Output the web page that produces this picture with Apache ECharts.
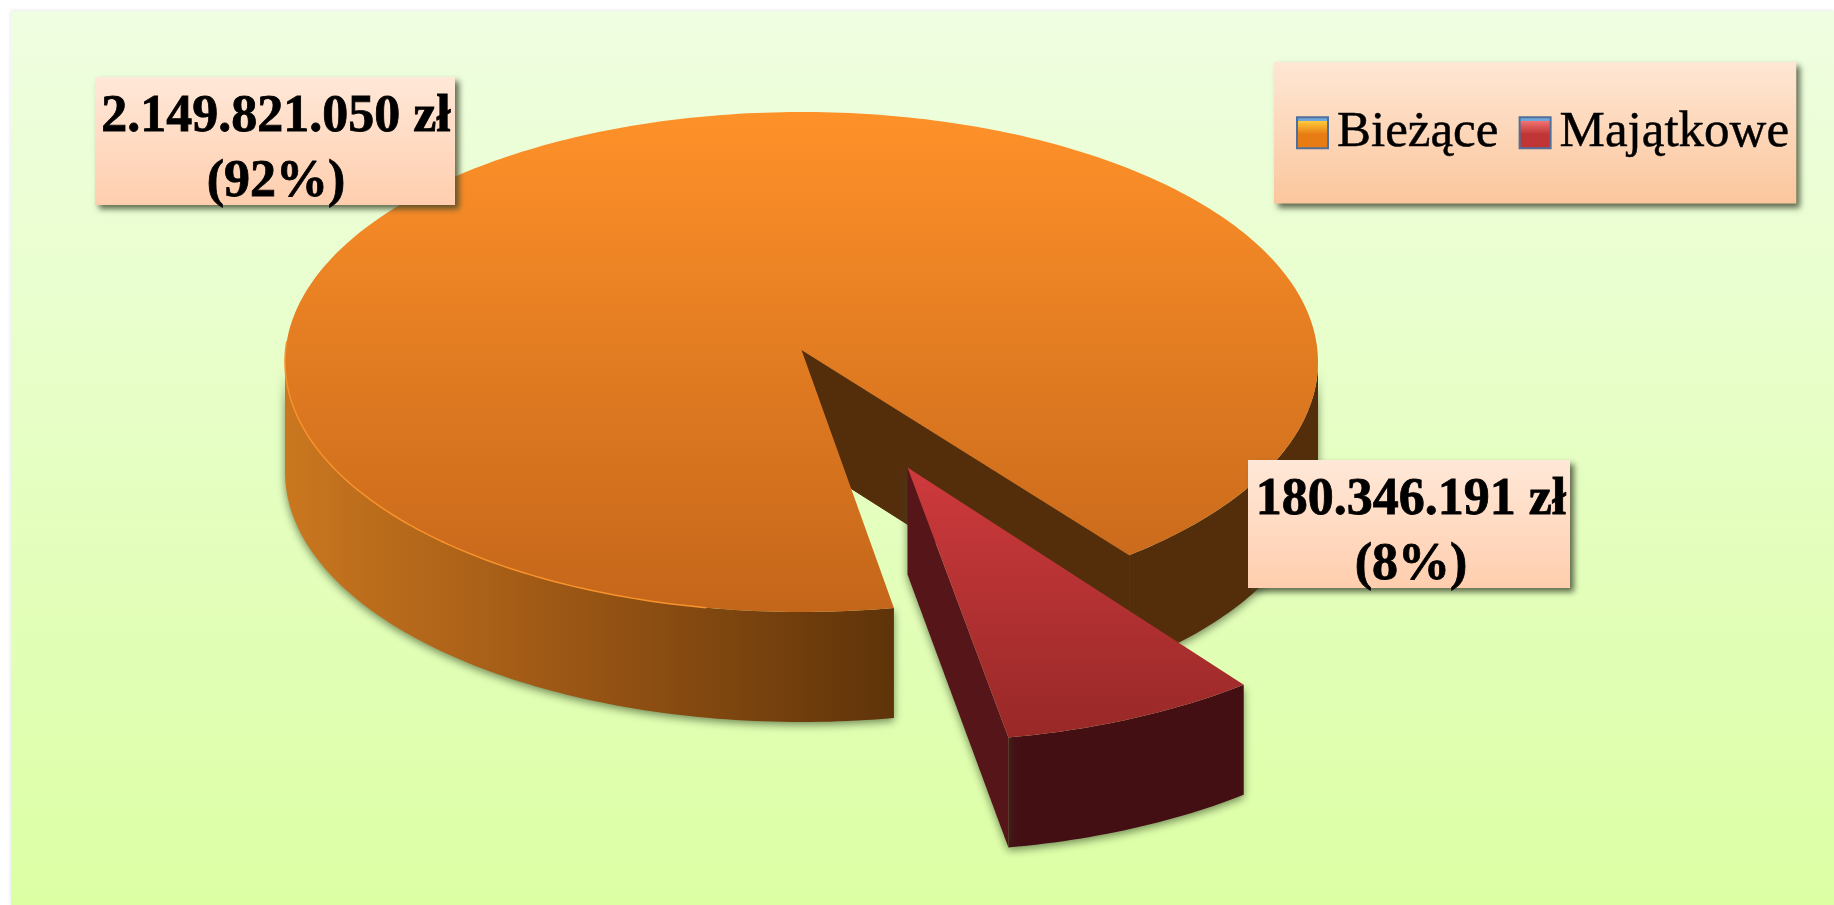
<!DOCTYPE html>
<html><head><meta charset="utf-8">
<style>html,body{margin:0;padding:0;background:#fff}#c{width:1834px;height:905px}</style>
<script src="https://cdn.jsdelivr.net/npm/echarts@6/dist/echarts.min.js"></script>
</head><body><div id="c"></div>
<script>
const categories = ['Bieżące', 'Majątkowe'];
const values = [2149821050, 180346191];

const total = values.reduce((a, b) => a + b, 0);
const fmt = v => String(v).replace(/\B(?=(\d{3})+$)/g, '.') + ' zł';
const SERIF = '"Liberation Serif","Times New Roman",serif';
const G = echarts.graphic.LinearGradient;
const chart = echarts.init(document.getElementById('c'), null, {renderer: 'canvas'});

// tilted-pie projection
const CX = 801.5, CY = 362, RX = 516.5, RY = 250, APEX_Y = 350, DEPTH = 110;
const START = 142.3; // clockwise degrees from 12 o'clock where Majątkowe begins
const EXPLODE_RIM = [114.5, 129.5], EXPLODE_APEX = [106, 117.5];
const e0 = (APEX_Y - CY) / RY;
// ray angles that reach the widest points of the ellipse
const EDGE_R = Math.atan2(1, e0) * 180 / Math.PI, EDGE_L = 360 - EDGE_R;

function rim(deg, off) {
  const t = deg * Math.PI / 180, dx = Math.sin(t), dy = -Math.cos(t);
  const pd = e0 * dy, s = -pd + Math.sqrt(pd * pd - (e0 * e0 - 1));
  const o = off || [0, 0];
  return [CX + RX * s * dx + o[0], CY + RY * (e0 + s * dy) + o[1]];
}
function arc(a, b, off) {
  const pts = [], n = Math.max(2, Math.ceil(Math.abs(b - a)));
  for (let i = 0; i <= n; i++) pts.push(rim(a + (b - a) * i / n, off));
  return pts;
}
const drop = (pts, d) => pts.map(p => [p[0], p[1] + d]).reverse();
const SHADOW = {shadowBlur: 9, shadowColor: 'rgba(55,75,40,0.65)', shadowOffsetY: 3};
function poly(points, style) { return {type: 'polygon', shape: {points}, style}; }
function labelBox(x, y, w, h, tx, ty, text) {
  return [
    {type: 'rect', shape: {x, y, width: w, height: h}, style: {
      fill: new G(0, 0, 0, 1, [{offset: 0, color: '#FFE8D8'}, {offset: 1, color: '#FFCEAE'}]),
      shadowBlur: 6, shadowColor: 'rgba(60,70,45,0.8)', shadowOffsetX: 4, shadowOffsetY: 4}},
    {type: 'text', style: {x: tx, y: ty, text, font: 'bold 52px ' + SERIF, lineHeight: 65,
      align: 'center', verticalAlign: 'middle', fill: '#000', stroke: '#000', lineWidth: 0.8}}
  ];
}
function text2(i) { return fmt(values[i]) + '\n(' + Math.round(values[i] / total * 100) + '%)'; }

function renderMain(params, api) {
  const span = api.value(0) / total * 360;
  const a0 = START + (values[1] / total * 360), a1 = a0 + span;
  const apex = [CX, APEX_Y];
  const cutEnd = rim(a1);
  const children = [
    poly(arc(a0, EDGE_L).concat(drop(arc(a0, EDGE_L), DEPTH)), Object.assign({
      fill: new G(0, 0, 1, 0, [{offset: 0, color: '#CA771F'}, {offset: 0.4, color: '#A25B16'}, {offset: 1, color: '#5F3309'}])}, SHADOW)),
    poly(arc(EDGE_R, a1 - 360).concat(drop(arc(EDGE_R, a1 - 360), DEPTH)), Object.assign({fill: '#542D0B'}, SHADOW)),
    poly([apex, cutEnd, [cutEnd[0], cutEnd[1] + DEPTH], [apex[0], apex[1] + 107]], {fill: '#542D0B', stroke: '#542D0B', lineWidth: 1}),
    poly([apex].concat(arc(a0, a1)), {
      fill: new G(0, 0, 0, 1, [{offset: 0, color: '#FF9129'}, {offset: 1, color: '#C4661A'}])}),
    {type: 'polyline', shape: {points: arc(a0 + 20, 272)}, style: {fill: null, stroke: '#F8922C', lineWidth: 1.5}}
  ].concat(labelBox(95, 77, 360, 128, 276, 150.5, text2(0)));
  return {type: 'group', children};
}
function renderSlice(params, api) {
  const span = api.value(0) / total * 360;
  const a0 = START, a1 = START + span;
  const apex = [CX + EXPLODE_APEX[0], APEX_Y + EXPLODE_APEX[1]];
  const r = arc(a0, a1, EXPLODE_RIM);
  const corner = r[r.length - 1];
  const children = [
    poly(r.concat(drop(r, DEPTH)), Object.assign({fill: '#430F13'}, SHADOW)),
    poly([apex, corner, [corner[0], corner[1] + DEPTH], [apex[0], apex[1] + 107]], Object.assign({fill: '#561519'}, SHADOW)),
    poly([apex].concat(r), {fill: new G(0, 0, 0, 1, [{offset: 0, color: '#CE3A3D'}, {offset: 1, color: '#982827'}])})
  ].concat(labelBox(1248, 460, 322, 128, 1411, 533, text2(1)));
  return {type: 'group', children};
}
const iconGrad = (c1, c2) => new G(0, 0, 0, 1, [
  {offset: 0, color: '#6FA6DC'}, {offset: 0.13, color: '#6FA6DC'},
  {offset: 0.15, color: c1}, {offset: 0.55, color: c2}, {offset: 1, color: c2}]);

chart.setOption({
  animation: false,
  backgroundColor: '#fff',
  graphic: [{type: 'rect', z: -1, shape: {x: 11, y: 11, width: 1823, height: 894}, style: {
    fill: new G(0, 0, 0, 1, [{offset: 0, color: '#EFFEE1'}, {offset: 1, color: '#DCFFA4'}]),
    shadowBlur: 4, shadowColor: 'rgba(170,170,200,0.35)'}}],
  legend: {
    left: 1274, top: 62, orient: 'horizontal', padding: [45, 7, 45, 22], itemGap: 20,
    itemWidth: 31, itemHeight: 31, selectedMode: false,
    backgroundColor: new G(0, 0, 0, 1, [{offset: 0, color: '#FEE7D4'}, {offset: 1, color: '#FBC69D'}]),
    shadowBlur: 6, shadowColor: 'rgba(60,70,45,0.8)', shadowOffsetX: 4, shadowOffsetY: 4,
    textStyle: {fontFamily: SERIF, fontSize: 51, color: '#000', padding: [0, 0, 0, 4], textBorderColor: '#000', textBorderWidth: 0.5},
    data: [
      {name: categories[0], icon: 'rect', itemStyle: {color: iconGrad('#FFC93A', '#E87C14'), borderColor: '#50709C', borderWidth: 2}},
      {name: categories[1], icon: 'rect', itemStyle: {color: iconGrad('#F07070', '#C03535'), borderColor: '#50709C', borderWidth: 2}}
    ]
  },
  series: [
    {type: 'custom', name: categories[0], coordinateSystem: 'none', silent: true, renderItem: renderMain, data: [[values[0]]], itemStyle: {color: '#F08A24'}},
    {type: 'custom', name: categories[1], coordinateSystem: 'none', silent: true, renderItem: renderSlice, data: [[values[1]]], itemStyle: {color: '#C03535'}}
  ]
});
</script></body></html>
